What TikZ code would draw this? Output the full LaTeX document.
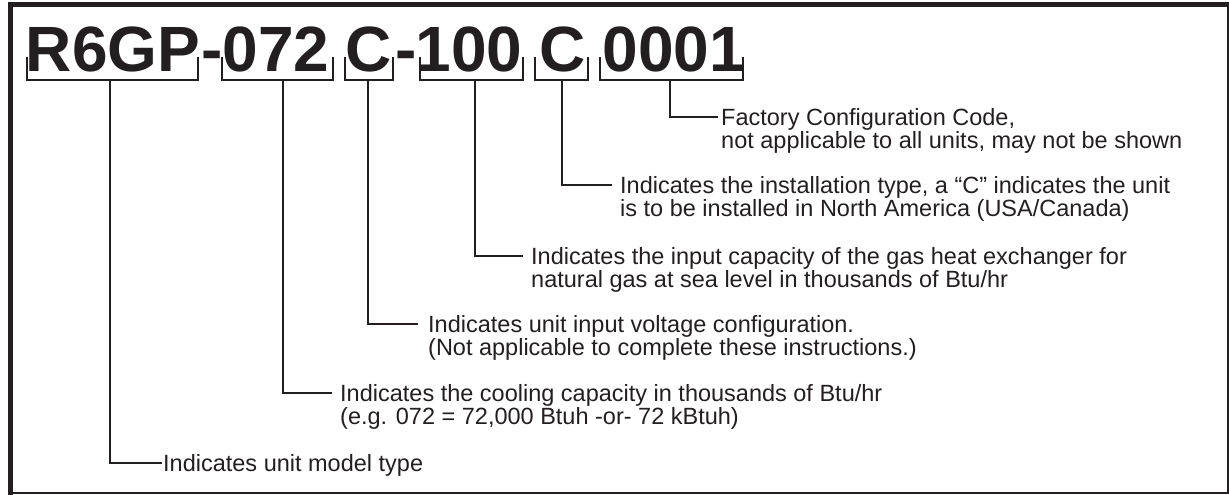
\documentclass[tikz,border=0pt]{standalone}
\usepackage{fontspec}
\setmainfont{Liberation Sans}
\definecolor{ink}{HTML}{231F20}
\begin{document}
\begin{tikzpicture}[x=1pt,y=-1pt,
  code/.style={font={\fontsize{64}{64}\selectfont\bfseries}, anchor=base, inner sep=0pt, text=ink},
  desc/.style={font={\fontsize{23.5}{23.5}\selectfont}, anchor=north west, inner sep=0pt, align=left, text=ink},
  brk/.style={line width=2pt, draw=ink},
  conn/.style={line width=2pt, draw=ink},
  frame/.style={draw=ink}]
\useasboundingbox (0,0) rectangle (1229,495);
% frame
\draw[frame, line width=1.5pt] (10.5,4.5) rectangle (1228.2,493.2);
\draw[frame, line width=5pt] (10.5,495) -- (10.5,4.5) -- (1228.9,4.5);
% code segments
\node[code] (c1) at (113,72) {R6GP};
\node[code] (h1) at (212.5,72) {-};
\node[code] (c2) at (276,72) {072};
\node[code] (c3) at (369,72) {C};
\node[code] (h2) at (406,72) {-};
\node[code] (c4) at (469,72) {100};
\node[code] (c5) at (563,72) {C};
\node[code] (c6) at (674,72) {0001};
% brackets
\draw[brk] (27,57) |- (198,80) -- (198,57);
\draw[brk] (222,57) |- (333,80) -- (333,57);
\draw[brk] (345,57) |- (393,80) -- (393,57);
\draw[brk] (420,57) |- (523,80) -- (523,57);
\draw[brk] (535,57) |- (588,80) -- (588,57);
\draw[brk] (600,57) |- (743,80) -- (743,57);
% stem starts
\coordinate (s1) at (110,80);
\coordinate (s2) at (283,80);
\coordinate (s3) at (368,80);
\coordinate (s4) at (475,80);
\coordinate (s5) at (562,80);
\coordinate (s6) at (670,80);
% connector ends
\coordinate (e6) at (718,117);
\coordinate (e5) at (612,185);
\coordinate (e4) at (523,256);
\coordinate (e3) at (418,324);
\coordinate (e2) at (332,393);
\coordinate (e1) at (162,463);
% descriptions
\node[desc] (d6) at (721,108.2) {Factory Configuration Code,\\not applicable to all units, may not be shown};
\node[desc] (d5) at (620,176.2) {Indicates the installation type, a “C” indicates the unit\\is to be installed in North America (USA/Canada)};
\node[desc] (d4) at (531,247.2) {Indicates the input capacity of the gas heat exchanger for\\natural gas at sea level in thousands of Btu/hr};
\node[desc] (d3) at (428,315.2) {Indicates unit input voltage configuration.\\(Not applicable to complete these instructions.)};
\node[desc] (d2) at (340,384.2) {Indicates the cooling capacity in thousands of Btu/hr\\(e.g. 072 = 72,000 Btuh -or- 72 kBtuh)};
\node[desc] (d1) at (163,454.2) {Indicates unit model type};
% connectors
\draw[conn] (s1) |- (e1);
\draw[conn] (s2) |- (e2);
\draw[conn] (s3) |- (e3);
\draw[conn] (s4) |- (e4);
\draw[conn] (s5) |- (e5);
\draw[conn] (s6) |- (e6);
\end{tikzpicture}
\end{document}
